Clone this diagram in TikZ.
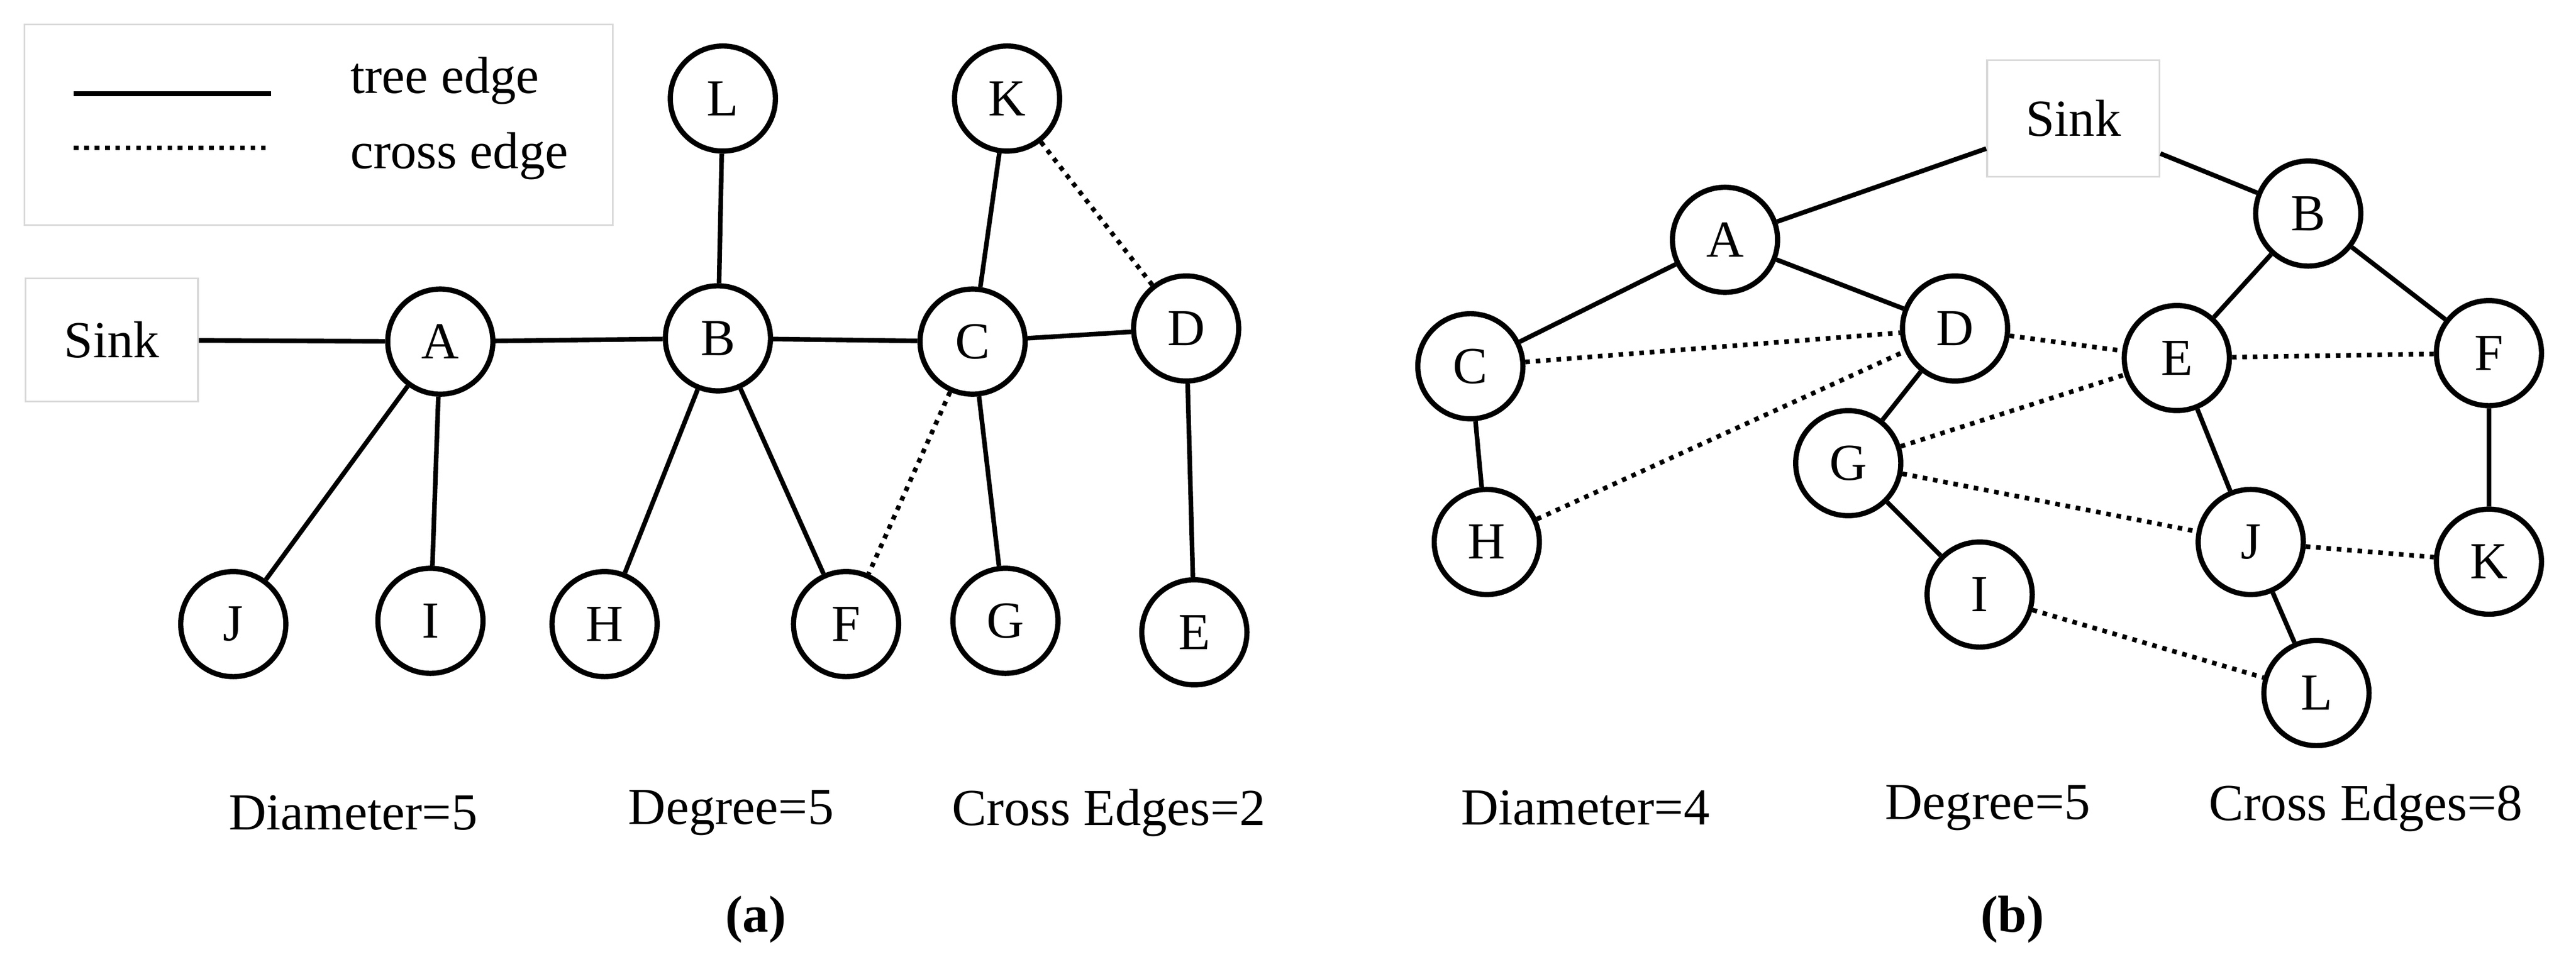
\documentclass[tikz,border=0pt]{standalone}
\usepackage{fontspec}
\setmainfont{Liberation Serif}
\begin{document}
\begin{tikzpicture}[x=0.02cm,y=-0.02cm,
  every node/.style={font=\fontsize{18}{20}\selectfont},
  v/.style={circle,draw,line width=1.8pt,minimum size=1.28cm,inner sep=0pt},
  box/.style={draw=black!15,line width=0.6pt,minimum width=2.1cm,minimum height=1.5cm},
  te/.style={line width=1.6pt},
  ce/.style={line width=1.6pt,dotted}]
\useasboundingbox (0,0) rectangle (1568,593);
% legend
\node[draw=black!15,line width=0.6pt,minimum width=7.16cm,minimum height=2.44cm] (leg) at (194,76) {};
\coordinate (l1a) at (45,57); \coordinate (l1b) at (165,57);
\coordinate (l2a) at (45,90); \coordinate (l2b) at (165,90);
\draw[te] (l1a) -- (l1b); \draw[ce] (l2a) -- (l2b);
\node[anchor=west] (t1) at (207,49) {tree edge};
\node[anchor=west] (t2) at (207,95) {cross edge};
% (a)
\node[box] (sa) at (68,207) {Sink};
\node[v] (A) at (268,208) {A};
\node[v] (B) at (437,206) {B};
\node[v] (C) at (592,208) {C};
\node[v] (D) at (722,200) {D};
\node[v] (L) at (440,60) {L};
\node[v] (K) at (613,60) {K};
\node[v] (J) at (142,380) {J};
\node[v] (I) at (262,378) {I};
\node[v] (H) at (368,380) {H};
\node[v] (F) at (515,380) {F};
\node[v] (G) at (612,378) {G};
\node[v] (E) at (727,385) {E};
\draw[te] (sa)--(A) (A)--(B) (B)--(C) (C)--(D) (B)--(L) (C)--(K) (A)--(J) (A)--(I) (B)--(H) (B)--(F) (C)--(G) (D)--(E);
\draw[ce] (K)--(D) (C)--(F);
\node (da) at (215,495) {Diameter=5};
\node (dga) at (445,495) {Degree=5};
\node (cea) at (675,495) {Cross Edges=2};
\node[font=\fontsize{18}{20}\selectfont\bfseries] (capa) at (460,560) {(a)};
% (b)
\node[box,minimum width=2.1cm,minimum height=1.42cm] (sb) at (1262,72) {Sink};
\node[v] (bA) at (1050,146) {A};
\node[v] (bB) at (1405,130) {B};
\node[v] (bC) at (895,223) {C};
\node[v] (bD) at (1190,200) {D};
\node[v] (bE) at (1325,218) {E};
\node[v] (bF) at (1515,215) {F};
\node[v] (bG) at (1125,282) {G};
\node[v] (bH) at (905,330) {H};
\node[v] (bI) at (1205,362) {I};
\node[v] (bJ) at (1370,330) {J};
\node[v] (bK) at (1515,342) {K};
\node[v] (bL) at (1410,422) {L};
\draw[te] (sb)--(bA) (sb)--(bB) (bA)--(bC) (bA)--(bD) (bC)--(bH) (bD)--(bG) (bG)--(bI) (bB)--(bE) (bB)--(bF) (bE)--(bJ) (bJ)--(bL) (bF)--(bK);
\draw[ce] (bC)--(bD) (bH)--(bD) (bD)--(bE) (bG)--(bE) (bE)--(bF) (bG)--(bJ) (bJ)--(bK) (bI)--(bL);
\node (db) at (965,492) {Diameter=4};
\node (dgb) at (1210,492) {Degree=5};
\node (ceb) at (1440,492) {Cross Edges=8};
\node[font=\fontsize{18}{20}\selectfont\bfseries] (capb) at (1225,560) {(b)};
\end{tikzpicture}
\end{document}
